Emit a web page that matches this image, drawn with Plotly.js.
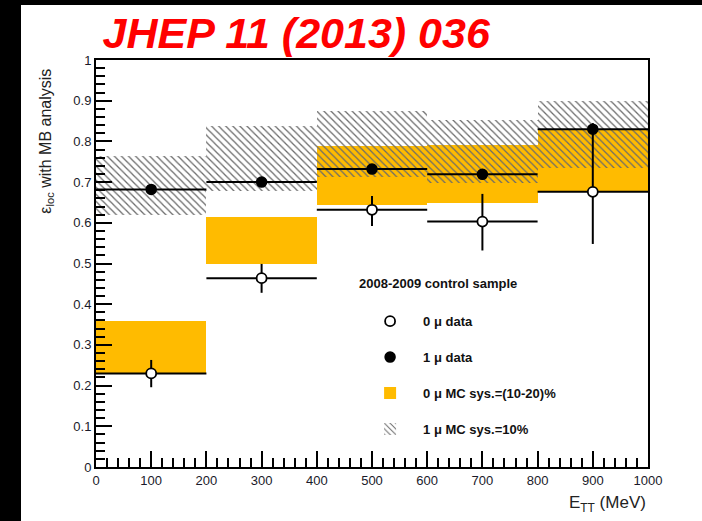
<!DOCTYPE html>
<html><head><meta charset="utf-8">
<script src="https://cdn.plot.ly/plotly-3.0.1.min.js"></script>
<style>
html,body{margin:0;padding:0;background:#000;width:702px;height:521px;overflow:hidden}
#chart{position:absolute;left:21px;top:5px;width:681px;height:516px;background:#fff}
</style></head>
<body><div id="chart"></div>
<script>
// bin centres and half widths (MeV)
const binCenters = [100, 300, 500, 700, 900];
const binHalfWidth = [100, 100, 100, 100, 100];
const binWidth = [200, 200, 200, 200, 200];

// 0 mu data
const data0mu = [0.230, 0.464, 0.632, 0.603, 0.676];
const data0muErrUp = [0.033, 0.035, 0.034, 0.068, 0.140];
const data0muErrDn = [0.034, 0.036, 0.040, 0.071, 0.128];

// 1 mu data
const data1mu = [0.682, 0.700, 0.732, 0.719, 0.830];
const data1muErrUp = [0.010, 0.010, 0.008, 0.012, 0.015];
const data1muErrDn = [0.010, 0.010, 0.008, 0.012, 0.015];

// 0 mu MC sys band (low / high)
const mc0Low = [0.230, 0.500, 0.643, 0.649, 0.676];
const mc0High = [0.358, 0.615, 0.788, 0.790, 0.827];

// 1 mu MC sys band (low / high)
const mc1Low = [0.619, 0.678, 0.712, 0.697, 0.734];
const mc1High = [0.763, 0.837, 0.874, 0.853, 0.899];

const yTicks = [0, 0.1, 0.2, 0.3, 0.4, 0.5, 0.6, 0.7, 0.8, 0.9, 1];
const yTickText = ['0', '0.1', '0.2', '0.3', '0.4', '0.5', '0.6', '0.7', '0.8', '0.9', '1'];
const xTicks = [0, 100, 200, 300, 400, 500, 600, 700, 800, 900, 1000];

const FONT = 'Liberation Sans, Arial, Helvetica, sans-serif';

const traces = [
  {
    type: 'bar', x: binCenters, base: mc0Low,
    y: mc0High.map((h, i) => h - mc0Low[i]), width: binWidth,
    marker: {color: '#ffbb00', line: {width: 0}},
    name: '0 \u03bc MC sys.=(10-20)%', legendgroup: 'c', legendrank: 3,
    hoverinfo: 'skip'
  },
  {
    type: 'bar', x: binCenters, base: mc1Low,
    y: mc1High.map((h, i) => h - mc1Low[i]), width: binWidth,
    marker: {color: '#6a6a6a', line: {width: 0},
      pattern: {shape: '\\', fillmode: 'replace', fgcolor: '#6a6a6a', size: 5, solidity: 0.25}},
    name: '1 \u03bc MC sys.=10%', legendgroup: 'd', legendrank: 4,
    hoverinfo: 'skip'
  },
  {
    type: 'scatter', mode: 'markers', x: binCenters, y: data1mu,
    marker: {symbol: 'circle', size: 10, color: '#000', line: {color: '#000', width: 1.5}},
    error_x: {type: 'data', array: binHalfWidth, width: 0, thickness: 2, color: '#000'},
    error_y: {type: 'data', symmetric: false, array: data1muErrUp, arrayminus: data1muErrDn, width: 0, thickness: 2, color: '#000'},
    name: '1 \u03bc data', legendgroup: 'b', legendrank: 2
  },
  {
    type: 'scatter', mode: 'markers', x: binCenters, y: data0mu,
    marker: {symbol: 'circle', size: 10, color: '#fff', line: {color: '#000', width: 1.8}},
    error_x: {type: 'data', array: binHalfWidth, width: 0, thickness: 2, color: '#000'},
    error_y: {type: 'data', symmetric: false, array: data0muErrUp, arrayminus: data0muErrDn, width: 0, thickness: 2, color: '#000'},
    name: '0 \u03bc data', legendgroup: 'a', legendrank: 1
  }
];

const axisCommon = {
  showgrid: false, zeroline: false, showline: true, linecolor: '#000', linewidth: 2,
  mirror: true, ticks: 'inside', ticklen: 16, tickwidth: 2, tickcolor: '#000',
  tickfont: {family: FONT, size: 13, color: '#1a1a2a'}
};

const layout = {
  width: 681, height: 516,
  margin: {l: 75, r: 54, t: 54.5, b: 53.5},
  paper_bgcolor: '#fff', plot_bgcolor: '#fff',
  barmode: 'overlay', bargap: 0,
  showlegend: true,
  title: {
    text: 'JHEP 11 (2013) 036', xref: 'paper', x: 0.012, xanchor: 'left',
    yref: 'container', y: 0.946, yanchor: 'middle',
    font: {family: FONT, size: 43, color: '#ff0000', weight: 'bold', style: 'italic'}
  },
  xaxis: Object.assign({}, axisCommon, {
    range: [0, 1000], tickvals: xTicks,
    minor: {dtick: 20, ticks: 'inside', ticklen: 9, tickwidth: 2, tickcolor: '#000'}
  }),
  yaxis: Object.assign({}, axisCommon, {
    range: [0, 1], tickvals: yTicks, ticktext: yTickText,
    minor: {dtick: 0.02, ticks: 'inside', ticklen: 9, tickwidth: 2, tickcolor: '#000'}
  }),
  legend: {
    x: 0.473, y: 0.395, xanchor: 'left', yanchor: 'top',
    bgcolor: 'rgba(0,0,0,0)', borderwidth: 0,
    traceorder: 'grouped', tracegroupgap: 16, itemwidth: 56,
    font: {family: FONT, size: 13, color: '#111', weight: 'bold'}
  },
  annotations: [
    {
      text: '2008-2009 control sample', xref: 'paper', yref: 'paper',
      x: 0.473, y: 0.45, xanchor: 'left', yanchor: 'middle',
      showarrow: false, font: {family: FONT, size: 13, color: '#111', weight: 'bold'}
    },
    {
      text: '\u03b5<sub>loc</sub> with MB analysis', xref: 'paper', yref: 'paper',
      x: -0.09, y: 0.80, xanchor: 'center', yanchor: 'middle', textangle: -90,
      showarrow: false, font: {family: FONT, size: 16, color: '#222'}
    },
    {
      text: 'E<sub>TT</sub> (MeV)', xref: 'paper', yref: 'paper',
      x: 1.0, y: -0.09, xanchor: 'right', yanchor: 'middle',
      showarrow: false, font: {family: FONT, size: 17, color: '#222'}
    }
  ]
};

Plotly.newPlot('chart', traces, layout, {displayModeBar: false, staticPlot: true});
</script>
</body></html>
